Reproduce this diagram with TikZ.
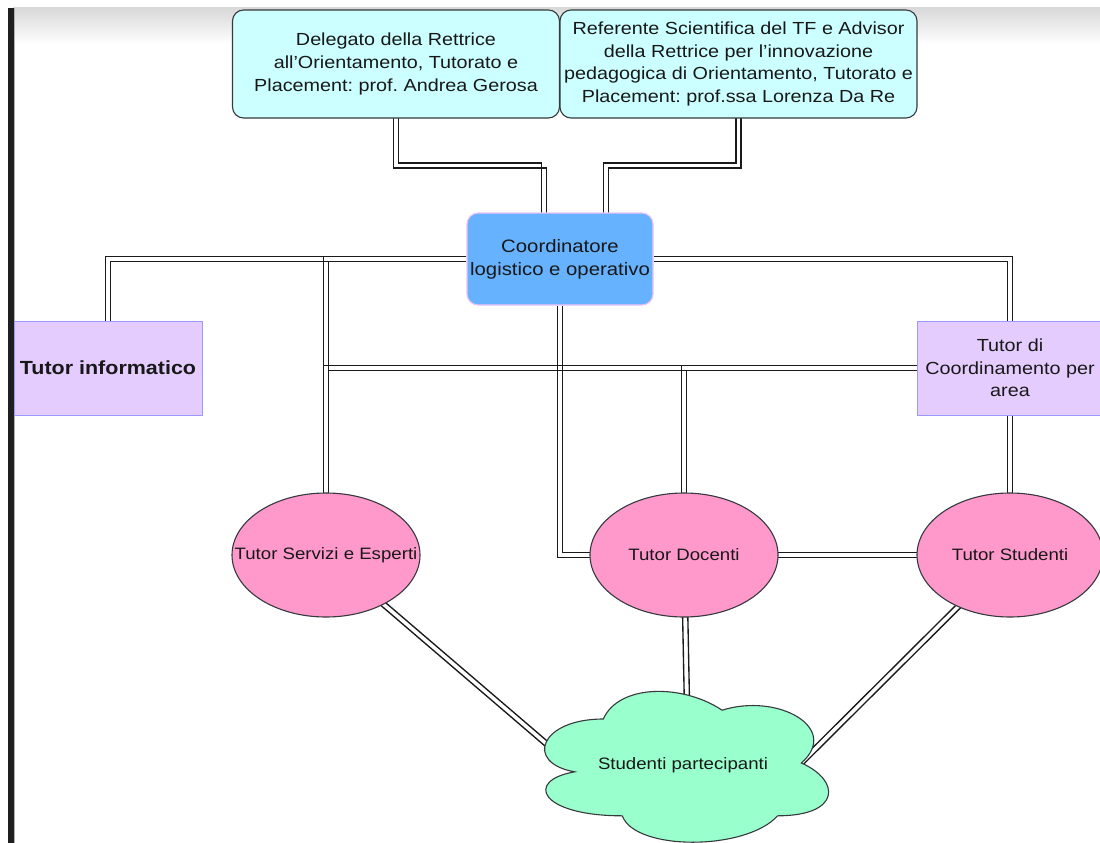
\documentclass[tikz,border=0pt]{standalone}
\usepackage{fontspec}
\setmainfont{Liberation Sans}[FakeStretch=1.13]
\frenchspacing
\usetikzlibrary{shapes.geometric,calc}

\definecolor{boxcyan}{HTML}{CCFFFF}
\definecolor{boxedge}{HTML}{36393D}
\definecolor{coordblue}{HTML}{66B2FF}
\definecolor{coordedge}{HTML}{EEC2F6}
\definecolor{lilac}{HTML}{E5CCFF}
\definecolor{lilacedge}{HTML}{9999FF}
\definecolor{tutorpink}{HTML}{FF99CC}
\definecolor{mintgreen}{HTML}{99FFCC}
\definecolor{ink}{HTML}{181818}
\definecolor{wirecol}{HTML}{1A1A1A}

\pgfdeclarelayer{backdrop}
\pgfdeclarelayer{wires}
\pgfsetlayers{backdrop,wires,main}

\tikzset{
  topbox/.style={draw=boxedge, line width=1.1pt, fill=boxcyan, rounded corners=11pt,
    minimum height=108pt, inner sep=0pt, align=center, text=ink,
    font=\fontsize{17.5}{22.7}\selectfont},
  coordbox/.style={draw=coordedge, line width=1.1pt, fill=coordblue, rounded corners=11pt,
    minimum width=186pt, minimum height=92pt, inner sep=0pt, align=center, text=ink,
    font=\fontsize{18}{23}\selectfont},
  tutorbox/.style={draw=lilacedge, line width=1pt, fill=lilac,
    minimum width=188pt, minimum height=94pt, inner sep=0pt, align=center, text=ink,
    font=\fontsize{17.5}{22.5}\selectfont},
  tutorell/.style={ellipse, draw=boxedge, line width=1.1pt, fill=tutorpink,
    minimum width=188pt, minimum height=124pt, inner sep=0pt, text=ink,
    font=\fontsize{16.5}{20}\selectfont},
  wire/.style={draw=wirecol, line width=1.35pt},
}

% a link is a pair of thin parallel lines; \s is the offset of each line
% from the middle of the link (the links run under the nodes)
\newcommand\twin[1]{\foreach \s in {-2.6,2.6} {\draw[wire] #1;}}

\begin{document}
\begin{tikzpicture}[x=1pt, y=-1pt]
  \useasboundingbox (0,0) rectangle (1100,843);

  \begin{pgfonlayer}{backdrop}
    \fill[white] (0,0) rectangle (1100,843);
    % window frame: grey band on top and dark bar on the left
    \shade[top color=black!15, bottom color=white] (13,8) rectangle (1100,44);
    \fill[black!88] (8,8) rectangle (13.5,843);
    \fill[black!30] (13.5,8) rectangle (14.5,843);
  \end{pgfonlayer}

  % management
  \node[topbox, minimum width=327pt] (deleg) at (396,64)
    {Delegato della Rettrice\\all'Orientamento, Tutorato e\\Placement: prof. Andrea Gerosa};
  \node[topbox, minimum width=357pt] (refer) at (738.5,64)
    {Referente Scientifica del TF e Advisor\\della Rettrice per l’innovazione\\pedagogica di Orientamento, Tutorato e\\Placement: prof.ssa Lorenza Da Re};
  \node[coordbox] (coord) at (560,259) {Coordinatore\\logistico e operativo};

  % coordination tutors
  \node[tutorbox] (tinf) at (108,368) {\bfseries\fontsize{19}{22}\selectfont Tutor informatico};
  \node[tutorbox, minimum width=186pt] (tcoo) at (1010,368) {Tutor di\\Coordinamento per\\area};

  % tutors
  \node[tutorell] (serv) at (326,555) {\makebox[0pt]{Tutor Servizi e Esperti}};
  \node[tutorell] (doc) at (684,555) {Tutor Docenti};
  \node[tutorell, minimum width=186pt] (stu) at (1010,555) {Tutor Studenti};

  % points inside the cloud where the links end
  \coordinate (cl-w) at (556,752);
  \coordinate (cl-n) at (687,706);
  \coordinate (cl-e) at (794,770);

  % links
  \begin{pgfonlayer}{wires}
    \twin{($(deleg.south)+(\s,-2)$) -- ++(0,49-\s) -| ($(coord.north)+(-16-\s,2)$)}
    \twin{($(refer.south)+(\s,-2)$) -- ++(0,49+\s) -| ($(coord.north)+(46+\s,2)$)}
    \twin{($(coord.west)+(0,\s)$) -| ($(tinf.north)+(\s,0)$)}
    \twin{($(coord.west)+(0,\s)$) -| ($(serv.north)+(\s,2)$)}
    \twin{($(coord.east)+(0,\s)$) -| ($(tcoo.north)+(-\s,0)$)}
    \twin{($(coord.south)+(\s,0)$) |- ($(doc.west)+(2,-\s)$)}
    \twin{($(tcoo.west)+(0,\s)$) -| ($(serv.north)+(\s,2)$)}
    \twin{($(tcoo.west)+(0,\s)$) -| ($(doc.north)+(\s,2)$)}
    \twin{($(tcoo.south)+(\s,0)$) -- ($(stu.north)+(\s,2)$)}
    \twin{($(doc.east)+(-2,\s)$) -- ($(stu.west)+(2,\s)$)}
    \twin{($(serv.center)!\s pt!90:(cl-w)$) -- ($(cl-w)!\s pt!-90:(serv.center)$)}
    \twin{($(doc.center)!\s pt!90:(cl-n)$) -- ($(cl-n)!\s pt!-90:(doc.center)$)}
    \twin{($(stu.center)!\s pt!90:(cl-e)$) -- ($(cl-e)!\s pt!-90:(stu.center)$)}
  \end{pgfonlayer}

  % participants cloud
  \draw[draw=boxedge, line width=1.1pt, fill=mintgreen]
    (603.25,719)
    .. controls (539.85,719) and (524,763) .. (574.72,771.8)
    .. controls (524,780.6) and (539.85,815.8) .. (622.27,815.8)
    .. controls (634.95,851) and (745.9,851) .. (777.6,815.8)
    .. controls (841,815.8) and (841,780.6) .. (801.38,763)
    .. controls (841,727.8) and (777.6,692.6) .. (722.13,710.2)
    .. controls (682.5,683.8) and (619.1,683.8) .. (603.25,719)
    -- cycle;
  \node[text=ink, font=\fontsize{16.5}{20}\selectfont, inner sep=0pt] (part) at (683,765)
    {Studenti partecipanti};
\end{tikzpicture}
\end{document}
